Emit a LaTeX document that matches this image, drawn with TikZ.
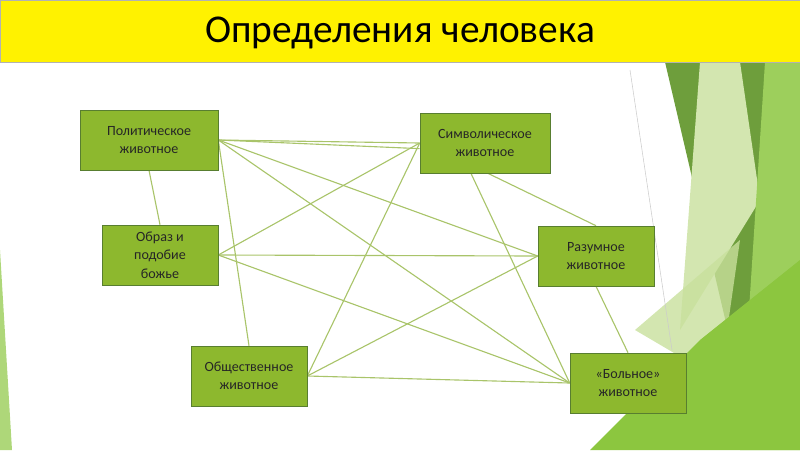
\documentclass[tikz,border=0pt]{standalone}
\usepackage{fontspec}
\setmainfont{Carlito}
\usetikzlibrary{positioning, backgrounds}
\definecolor{boxgreen}{HTML}{8DB82E}
\definecolor{edgegreen}{HTML}{A9C46A}
\definecolor{darkleaf}{HTML}{6E9E3C}
\definecolor{midleaf}{HTML}{8CC63F}
\definecolor{paleleaf}{HTML}{C8E09C}
\pgfdeclarelayer{scenery}
\pgfsetlayers{scenery,background,main}
\tikzstyle{animal} = [rectangle, draw=darkleaf!80!black, fill=boxgreen, minimum width=2.9cm, minimum height=1.5cm, align=center, font=\fontsize{10}{13}\selectfont, text=black!85]
\tikzstyle{link} = [draw=edgegreen, line width=0.8pt]

\begin{document}
\begin{tikzpicture}[x=0.025cm, y=-0.025cm]
  \useasboundingbox (0,0) rectangle (800,450);
  % фон
  \begin{pgfonlayer}{scenery}
  \fill[midleaf!70] (0,250) -- (12,450) -- (0,450) -- cycle;
  \fill[darkleaf] (665,62) -- (800,62) -- (800,300) -- (730,340) -- cycle;
  \fill[paleleaf!80] (700,62) -- (740,62) -- (760,200) -- (680,330) -- cycle;
  \fill[midleaf!85] (765,62) -- (800,62) -- (800,450) -- (740,450) -- cycle;
  \fill[paleleaf, opacity=0.8] (635,330) -- (740,240) -- (720,380) -- cycle;
  \fill[midleaf] (590,450) -- (700,340) -- (800,260) -- (800,450) -- cycle;
  \draw[gray!40] (630,70) -- (672,350);
  \end{pgfonlayer}
  % заголовок
  \node[draw=gray!60, fill=yellow, minimum width=20cm, minimum height=1.55cm, anchor=north west, inner sep=0pt] (title) at (0,0) {};
  \node[font=\fontsize{28}{32}\selectfont] (titletext) at (400,33) {Определения человека};
  % понятия
  \node[animal, minimum width=3.45cm] (pol) at (149,140) {Политическое\\животное};
  \node[animal] (obr) at (160,255) {Образ и\\подобие\\божье};
  \node[animal] (obs) at (249,376) {Общественное\\животное};
  \node[animal, minimum width=3.25cm] (sym) at (485,143) {Символическое\\животное};
  \node[animal] (raz) at (596,256) {Разумное\\животное};
  \node[animal] (bol) at (628,383) {«Больное»\\животное};
  % связи
  \begin{pgfonlayer}{background}
  \foreach \a in {pol,obr,obs}
    \foreach \b in {sym,raz,bol}
      \draw[link] (\a.east) -- (\b.west);
  \draw[link] (pol.south) -- (obr.north);
  \draw[link] (pol.east) -- (obs.north);
  \draw[link] (pol.east) -- ([yshift=-4pt]sym.west);
  \draw[link] ([xshift=-10pt]sym.south) -- (bol.west);
  \draw[link] ([xshift=2pt]sym.south) -- (raz.north);
  \draw[link] (raz.south) -- (bol.north);
  \end{pgfonlayer}
\end{tikzpicture}
\end{document}
